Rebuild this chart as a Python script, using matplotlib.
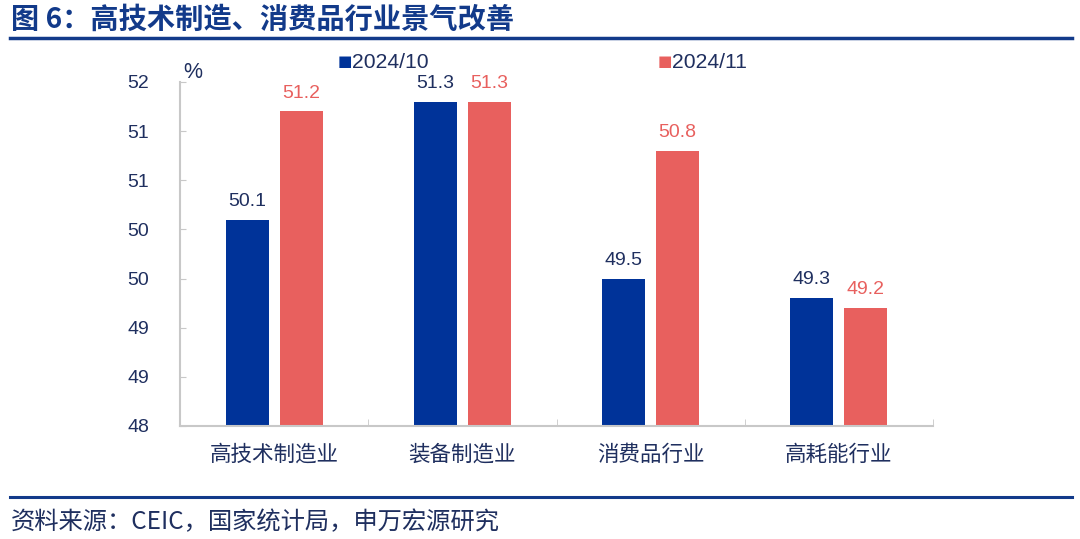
import matplotlib
matplotlib.use("Agg")
import matplotlib.pyplot as plt
import numpy as np
from matplotlib.lines import Line2D

plt.rcParams['font.family'] = ['Liberation Sans', 'Noto Sans CJK SC', 'DejaVu Sans']

categories = ["高技术制造业", "装备制造业", "消费品行业", "高耗能行业"]
series_names = ["2024/10", "2024/11"]
values_oct = [50.1, 51.3, 49.5, 49.3]
values_nov = [51.2, 51.3, 50.8, 49.2]
ytick_values = [48, 48.5, 49, 49.5, 50, 50.5, 51, 51.5]
ytick_labels = ["48", "49", "49", "50", "50", "51", "51", "52"]
title = "图 6：高技术制造、消费品行业景气改善"
source = "资料来源：CEIC，国家统计局，申万宏源研究"

BLUE = "#003399"
RED = "#E8605E"
NAVY = "#1F2F5F"
TITLE_BLUE = "#123A8A"
GRID = "#C8C8C8"
CJK = ['Noto Sans CJK SC', 'DejaVu Sans']
NUM = ['Liberation Sans', 'Noto Sans CJK SC']

fig = plt.figure(figsize=(10.8, 5.39), dpi=100)
ax = fig.add_axes([180/1080, 1-426/539, (933-180)/1080, (426-82)/539])

x = np.arange(len(categories))
w = 0.228
gap = 0.058
off = (w + gap) / 2
ax.bar(x - off, np.array(values_oct) - 48, w, bottom=48, color=BLUE, label=series_names[0])
ax.bar(x + off, np.array(values_nov) - 48, w, bottom=48, color=RED, label=series_names[1])

for xi, v in zip(x - off, values_oct):
    ax.text(xi, v + 0.1, f"{v:.1f}", ha='center', va='bottom', fontsize=14, color=NAVY, family=NUM)
for xi, v in zip(x + off, values_nov):
    ax.text(xi, v + 0.1, f"{v:.1f}", ha='center', va='bottom', fontsize=14, color=RED, family=NUM)

ax.set_xlim(-0.5, len(categories) - 0.5)
ax.set_ylim(48, 51.5)
ax.set_yticks(ytick_values)
ax.set_yticklabels(ytick_labels, family=NUM, fontsize=14, color=NAVY)
ax.set_xticks(x)
ax.set_xticklabels(categories, family=CJK, fontsize=15.5, color=NAVY)
ax.tick_params(axis='x', length=0, pad=13)
ax.tick_params(axis='y', direction='in', length=4, color=GRID, pad=22)
ax.set_xticks(np.arange(len(categories) + 1) - 0.5, minor=True)
ax.tick_params(axis='x', which='minor', direction='in', length=5, color=GRID)

for s in ['top', 'right']:
    ax.spines[s].set_visible(False)
for s in ['left', 'bottom']:
    ax.spines[s].set_color(GRID)
    ax.spines[s].set_linewidth(1.5)

fig.text(183/1080, 1-72/539, "%", fontsize=15.5, color=NAVY, family=NUM, ha='left', va='center')

# legend entries
fig.text(338/1080, 1-62/539, "■", fontsize=11, color=BLUE, ha='left', va='center', family=['DejaVu Sans'])
fig.text(352/1080, 1-62/539, series_names[0], fontsize=15.2, color=NAVY, ha='left', va='center', family=NUM)
fig.text(658/1080, 1-62/539, "■", fontsize=11, color=RED, ha='left', va='center', family=['DejaVu Sans'])
fig.text(672/1080, 1-62/539, series_names[1], fontsize=15.2, color=NAVY, ha='left', va='center', family=NUM)

# title and lines
fig.text(11/1080, 1-20/539, title, fontsize=20.3, fontweight='bold', color=TITLE_BLUE,
         ha='left', va='center', family=CJK)
fig.add_artist(Line2D([10/1080, 1072/1080], [1-38/539, 1-38/539], color=TITLE_BLUE, lw=2.5))
fig.add_artist(Line2D([10/1080, 1072/1080], [1-497/539, 1-497/539], color=TITLE_BLUE, lw=2.2))
fig.text(11/1080, 1-522/539, source, fontsize=17.5, color=NAVY, ha='left', va='center', family=CJK)

fig.savefig("out.png", dpi=100)
